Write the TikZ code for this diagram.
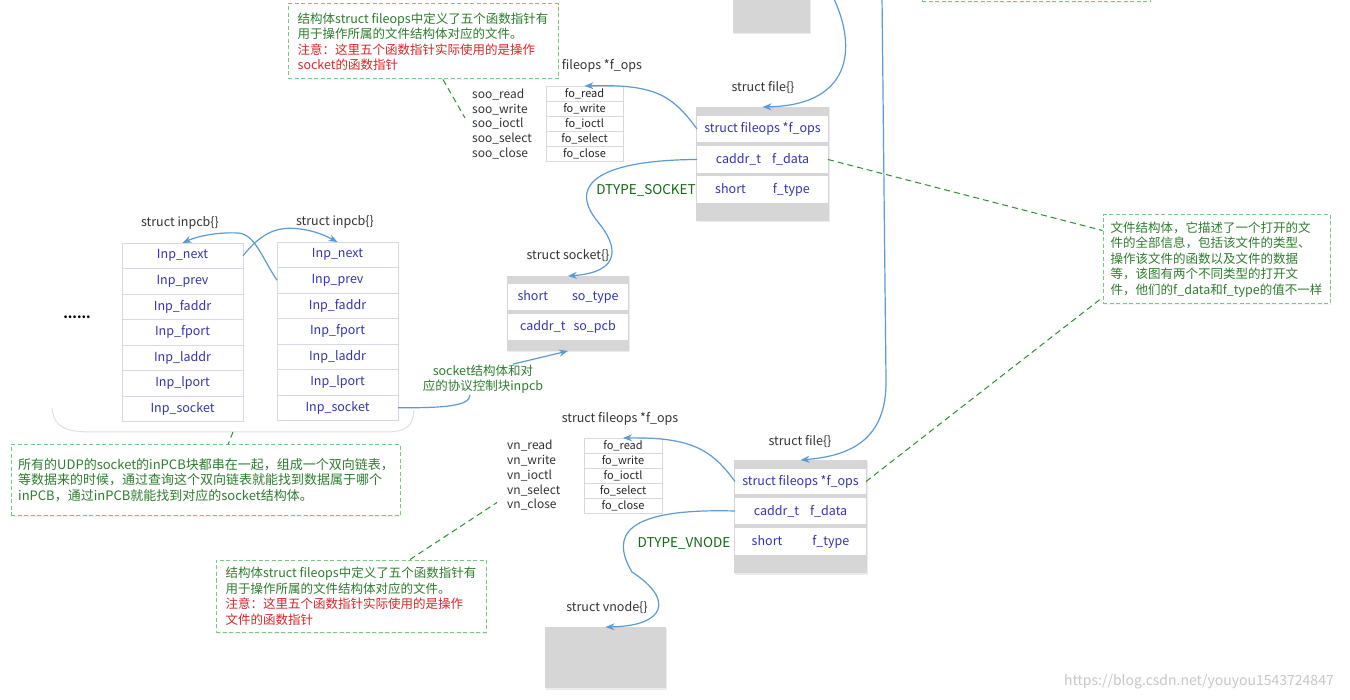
\documentclass[tikz,border=0pt]{standalone}
\usepackage{fontspec}
\setmainfont{Noto Sans CJK SC}
\usepackage{tikz}
\usetikzlibrary{
    shapes,
    arrows.meta,
    positioning,
    shadows,
}
\definecolor{linkblue}{RGB}{91,155,213}
\definecolor{fieldblue}{RGB}{52,52,178}
\definecolor{structgray}{RGB}{214,214,214}
\definecolor{rowline}{RGB}{212,217,226}
\definecolor{noteborder}{RGB}{120,200,130}
\definecolor{notegreen}{RGB}{45,125,45}
\definecolor{notered}{RGB}{215,40,40}
\definecolor{dtypegreen}{RGB}{20,105,20}
\definecolor{remarkgreen}{RGB}{40,145,50}
\tikzset{
    structbody/.style = {
        rectangle,
        fill=structgray,
        inner sep=0pt,
        outer sep=0pt,
        drop shadow={opacity=0.15, shadow xshift=1pt, shadow yshift=-1.5pt},
    },
    fieldrow/.style = {
        rectangle,
        fill=white,
        inner sep=0pt,
        outer sep=0pt,
        text=fieldblue,
        font=\fontsize{12.5}{14}\selectfont,
    },
    pcbrow/.style = {
        rectangle,
        fill=white,
        draw=rowline,
        minimum width=121pt,
        minimum height=25.5pt,
        inner sep=0pt,
        outer sep=0pt,
        text=fieldblue,
        font=\fontsize{12.5}{14}\selectfont,
    },
    opsrow/.style = {
        rectangle,
        fill=white,
        draw=rowline,
        minimum height=15pt,
        inner sep=0pt,
        outer sep=0pt,
        text=black!85,
        font=\fontsize{11}{12}\selectfont,
    },
    structname/.style = {
        text=black!80,
        inner sep=0pt,
        font=\fontsize{12.5}{14}\selectfont,
    },
    namelist/.style = {
        align=left,
        inner sep=0pt,
        text=black!80,
        font=\fontsize{12}{14.75}\selectfont,
    },
    notebox/.style = {
        rectangle,
        draw=noteborder,
        line width=1pt,
        dash pattern=on 4pt off 2.5pt,
        fill=white,
        text=notegreen,
        align=left,
        inner xsep=7pt,
        font=\fontsize{12.5}{15.5}\selectfont,
        drop shadow={opacity=0.1, shadow xshift=0.5pt, shadow yshift=-1.5pt},
    },
    dtype/.style = {
        text=dtypegreen,
        inner sep=0pt,
        font=\fontsize{13.5}{15}\selectfont,
    },
}
\tikzstyle{pointer} = [
    linkblue,
    line width=1.2pt,
    -{Stealth[length=9pt, width=7pt]}
]
\tikzstyle{remarkline} = [
    remarkgreen,
    line width=1pt,
    dash pattern=on 6pt off 4pt
]

\begin{document}
\begin{tikzpicture}[x=1pt, y=-1pt]
        \useasboundingbox (0,0) rectangle (1350,700);
        \fill [white] (0,0) rectangle (1350,700);
        \clip (0,0) rectangle (1350,700);

        % cut off at the top edge
        \node [structbody, minimum width=77pt, minimum height=73pt] (cutStruct) at (771.5,-3.5) {};
        \node [notebox, minimum width=228pt, minimum height=40pt] (cutNote) at (1036,-18) {};
        \coordinate (offTopA) at (832,-5);
        \coordinate (offTopB) at (882,-5);

        % upper struct file
        \node [structname] (fileTopName) at (763,88) {struct file\{\}};
        \node [structbody, minimum width=133pt, minimum height=114pt] (fileTop) at (762.5,164) {};
        \node [fieldrow, minimum width=131pt, minimum height=26pt] (topOps) at (762.5,129)
        {struct fileops *f\_ops};
        \node [fieldrow, minimum width=131pt, minimum height=27pt, below=4pt of topOps] (topData)
        {caddr\_t\hspace{11pt}f\_data};
        \node [fieldrow, minimum width=131pt, minimum height=27pt, below=3pt of topData] (topType)
        {short\hspace{27pt}f\_type};

        \node [structname] (opsTopName) at (602,66) {fileops *f\_ops};
        \node [opsrow, minimum width=77pt] (opsTopRead) at (584.5,93.5) {fo\_read};
        \node [opsrow, minimum width=77pt, below=0pt of opsTopRead] (opsTopWrite) {fo\_write};
        \node [opsrow, minimum width=77pt, below=0pt of opsTopWrite] (opsTopIoctl) {fo\_ioctl};
        \node [opsrow, minimum width=77pt, below=0pt of opsTopIoctl] (opsTopSelect) {fo\_select};
        \node [opsrow, minimum width=77pt, below=0pt of opsTopSelect] (opsTopClose) {fo\_close};

        \node [namelist, anchor=west] (sooNames) at (472,124)
        {soo\_read\\soo\_write\\soo\_ioctl\\soo\_select\\soo\_close};

        \node [notebox, minimum width=270pt, minimum height=75pt] (opsTopNote) at (423,41.5)
        {结构体struct fileops中定义了五个函数指针有\\
        用于操作所属的文件结构体对应的文件。\\
        \textcolor{notered}{注意：这里五个函数指针实际使用的是操作}\\
        \textcolor{notered}{socket的函数指针}};

        \node [dtype] (dtypeSocket) at (646,190) {DTYPE\_SOCKET};

        % struct socket
        \node [structname] (sockName) at (568,256) {struct socket\{\}};
        \node [structbody, minimum width=122pt, minimum height=75pt] (sockBody) at (568,313.5) {};
        \node [fieldrow, minimum width=120pt, minimum height=26pt] (sockType) at (568,297)
        {short\hspace{24pt}so\_type};
        \node [fieldrow, minimum width=120pt, minimum height=26pt, below=4pt of sockType] (sockPcb)
        {caddr\_t\hspace{8pt}so\_pcb};

        % inpcb list
        \node [structname] (pcbLeftName) at (180,223) {struct inpcb\{\}};
        \node [pcbrow] (leftNext) at (182.5,255.75) {Inp\_next};
        \node [pcbrow, below=0pt of leftNext] (leftPrev) {Inp\_prev};
        \node [pcbrow, below=0pt of leftPrev] (leftFaddr) {Inp\_faddr};
        \node [pcbrow, below=0pt of leftFaddr] (leftFport) {Inp\_fport};
        \node [pcbrow, below=0pt of leftFport] (leftLaddr) {Inp\_laddr};
        \node [pcbrow, below=0pt of leftLaddr] (leftLport) {Inp\_lport};
        \node [pcbrow, below=0pt of leftLport] (leftSocket) {Inp\_socket};

        \node [structname] (pcbRightName) at (335,222) {struct inpcb\{\}};
        \node [pcbrow] (rightNext) at (337.5,254.75) {Inp\_next};
        \node [pcbrow, below=0pt of rightNext] (rightPrev) {Inp\_prev};
        \node [pcbrow, below=0pt of rightPrev] (rightFaddr) {Inp\_faddr};
        \node [pcbrow, below=0pt of rightFaddr] (rightFport) {Inp\_fport};
        \node [pcbrow, below=0pt of rightFport] (rightLaddr) {Inp\_laddr};
        \node [pcbrow, below=0pt of rightLaddr] (rightLport) {Inp\_lport};
        \node [pcbrow, below=0pt of rightLport] (rightSocket) {Inp\_socket};

        \node [font=\fontsize{13}{14}\selectfont\bfseries, inner sep=0pt] (pcbDots) at (77,317) {......};

        \draw [black!12, line width=1pt] (52,408) .. controls (54,430) and (70,432) .. (95,432)
            -- (385,432) .. controls (408,432) and (413,425) .. (414,410);
        \coordinate (bracketMid) at (233,432);

        \node [notebox, minimum width=388pt, minimum height=70pt, font=\fontsize{13}{15.5}\selectfont] (pcbNote) at (206,480)
        {所有的UDP的socket的inPCB块都串在一起，组成一个双向链表，\\
        等数据来的时候，通过查询这个双向链表就能找到数据属于哪个\\
        inPCB，通过inPCB就能找到对应的socket结构体。};

        \node [text=notegreen, align=center, inner sep=1pt, font=\fontsize{12.5}{15}\selectfont] (pcbLink) at (483,379.5)
        {socket结构体和对\\应的协议控制块inpcb};

        % lower struct file
        \node [structname] (fileBotName) at (800,442) {struct file\{\}};
        \node [structbody, minimum width=133pt, minimum height=113pt] (fileBottom) at (800.5,516.5) {};
        \node [fieldrow, minimum width=131pt, minimum height=25pt] (botOps) at (800.5,481.5)
        {struct fileops *f\_ops};
        \node [fieldrow, minimum width=131pt, minimum height=26pt, below=4pt of botOps] (botData)
        {caddr\_t\hspace{11pt}f\_data};
        \node [fieldrow, minimum width=131pt, minimum height=27pt, below=4pt of botData] (botType)
        {short\hspace{30pt}f\_type};

        \node [structname] (opsBotName) at (620,419) {struct fileops *f\_ops};
        \node [opsrow, minimum width=78pt] (opsBotRead) at (623,445.5) {fo\_read};
        \node [opsrow, minimum width=78pt, below=0pt of opsBotRead] (opsBotWrite) {fo\_write};
        \node [opsrow, minimum width=78pt, below=0pt of opsBotWrite] (opsBotIoctl) {fo\_ioctl};
        \node [opsrow, minimum width=78pt, below=0pt of opsBotIoctl] (opsBotSelect) {fo\_select};
        \node [opsrow, minimum width=78pt, below=0pt of opsBotSelect] (opsBotClose) {fo\_close};

        \node [namelist, anchor=west] (vnNames) at (507,475.5)
        {vn\_read\\vn\_write\\vn\_ioctl\\vn\_select\\vn\_close};

        \node [dtype] (dtypeVnode) at (684,543) {DTYPE\_VNODE};

        \node [structname] (vnodeName) at (607,608) {struct vnode\{\}};
        \node [structbody, minimum width=121pt, minimum height=61pt] (vnodeBody) at (605.5,657.5) {};

        \node [notebox, minimum width=270pt, minimum height=72pt] (opsBotNote) at (351,596)
        {结构体struct fileops中定义了五个函数指针有\\
        用于操作所属的文件结构体对应的文件。\\
        \textcolor{notered}{注意：这里五个函数指针实际使用的是操作}\\
        \textcolor{notered}{文件的函数指针}};

        \node [notebox, minimum width=227pt, minimum height=89pt, inner xsep=6pt] (fileNote) at (1216.5,259.5)
        {文件结构体，它描述了一个打开的文\\
        件的全部信息，包括该文件的类型、\\
        操作该文件的函数以及文件的数据\\
        等，该图有两个不同类型的打开文\\
        件，他们的f\_data和f\_type的值不一样};

        \node [text=black!22, font=\fontsize{14}{16}\selectfont, inner sep=0pt] (watermark) at (1199,682)
        {https://blog.csdn.net/youyou1543724847};

        \draw [pointer] (offTopA) .. controls (855,40) and (858,105) .. (fileTop.north);
        \draw [pointer] (offTopB) -- (886,380) .. controls (887,440) and (850,456) .. (fileBottom.north);
        \draw [pointer] (topOps.west) .. controls (672,95) and (655,84) .. (opsTopRead.north);
        \draw [pointer] (topData.west) .. controls (605,160) and (565,182) .. (598,222)
            .. controls (618,246) and (622,272) .. (sockBody.north);
        \draw [pointer] (leftNext.east) .. controls (262,232) and (278,226) .. (300,229)
            .. controls (316,231) and (326,236) .. (rightNext.north);
        \draw [pointer] (rightPrev.west) .. controls (262,258) and (255,234) .. (238,233)
            .. controls (218,232) and (198,236) .. (leftNext.north);
        \draw [linkblue, line width=1.2pt] (rightSocket.east) .. controls (445,408) and (470,406) .. ([xshift=-13pt]pcbLink.south);
        \draw [pointer] ([xshift=30pt]pcbLink.north) -- (sockBody.south);
        \draw [pointer] (botOps.west) .. controls (712,450) and (692,437) .. (opsBotRead.north);
        \draw [pointer] (botData.west) .. controls (625,508) and (610,535) .. (632,572)
            .. controls (675,600) and (665,626) .. (vnodeBody.north);

        \draw [remarkline] ([xshift=20pt]opsTopNote.south) -- ([xshift=-7pt, yshift=6pt]sooNames.west);
        \draw [remarkline] (bracketMid) -- ([xshift=22pt]pcbNote.north);
        \draw [remarkline] ([xshift=59pt]opsBotNote.north) -- ([xshift=-10pt, yshift=-27pt]vnNames.west);
        \draw [remarkline] (topData.east) -- ([yshift=29pt]fileNote.west);
        \draw [remarkline] (botOps.east) -- ([yshift=-38pt]fileNote.west);

    \end{tikzpicture}
\end{document}
